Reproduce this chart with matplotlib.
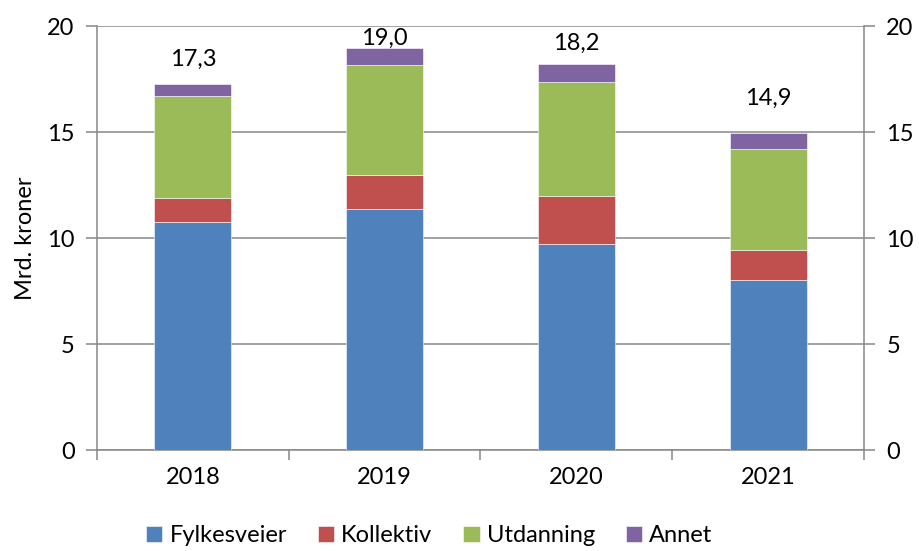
import numpy as np
import matplotlib; matplotlib.use("Agg")
import matplotlib.pyplot as plt
from matplotlib.ticker import FixedLocator

plt.rcParams["font.family"] = ["Lato", "DejaVu Sans"]

years = ["2018", "2019", "2020", "2021"]
fylkesveier = [10.74, 11.37, 9.70, 8.00]
kollektiv = [1.16, 1.59, 2.30, 1.43]
utdanning = [4.78, 5.21, 5.36, 4.78]
annet = [0.58, 0.78, 0.83, 0.73]
totals = ["17,3", "19,0", "18,2", "14,9"]
label_offset = [1.19, 0.48, 1.0, 1.66]   # labels were placed by hand in the original

series = [("Fylkesveier", fylkesveier, "#4f81bd"),
          ("Kollektiv", kollektiv, "#c0504d"),
          ("Utdanning", utdanning, "#9bbb59"),
          ("Annet", annet, "#8064a2")]
GRID = "#888888"
FS = 17

fig = plt.figure(figsize=(9.19, 5.51), dpi=100)
ax = fig.add_axes([0.1055, 0.1833, 0.8347, 0.7695])
x = np.arange(len(years))
bottom = np.zeros(len(years))
for name, vals, col in series:
    ax.bar(x, vals, 0.4, bottom=bottom, color=col, label=name, zorder=3,
           edgecolor="white", linewidth=0.4)
    bottom += np.array(vals)
for i, t in enumerate(totals):
    ax.text(x[i], bottom[i] + label_offset[i], t, ha="center", va="center", fontsize=FS)

ax.set_xlim(-0.5, len(years) - 0.5)
ax.set_ylim(0, 20)
ax.set_yticks([0, 5, 10, 15, 20])
ax.yaxis.grid(True, color=GRID, lw=1.1, zorder=0)
ax.set_xticks(x); ax.set_xticklabels(years, fontsize=FS)
ax.xaxis.set_minor_locator(FixedLocator(np.arange(-0.5, len(years), 1.0)))
ax.tick_params(axis="x", which="major", length=0, pad=12)
ax.tick_params(axis="x", which="minor", length=7, color=GRID, width=1.1)
ax.tick_params(axis="y", length=8, color=GRID, width=1.1, labelsize=FS, pad=8,
               right=True, labelright=True)
for s in ["left", "right", "bottom"]:
    ax.spines[s].set_color(GRID); ax.spines[s].set_linewidth(1.1)
ax.spines["top"].set_visible(False)
ax.set_ylabel("Mrd. kroner", fontsize=FS, labelpad=8)

fig.legend(loc="center", bbox_to_anchor=(0.467, 0.028), ncol=4, frameon=False,
           fontsize=FS, handlelength=0.7, handleheight=0.7, handletextpad=0.3,
           columnspacing=1.3, borderpad=0.1)
fig.savefig("out.png", dpi=100)
